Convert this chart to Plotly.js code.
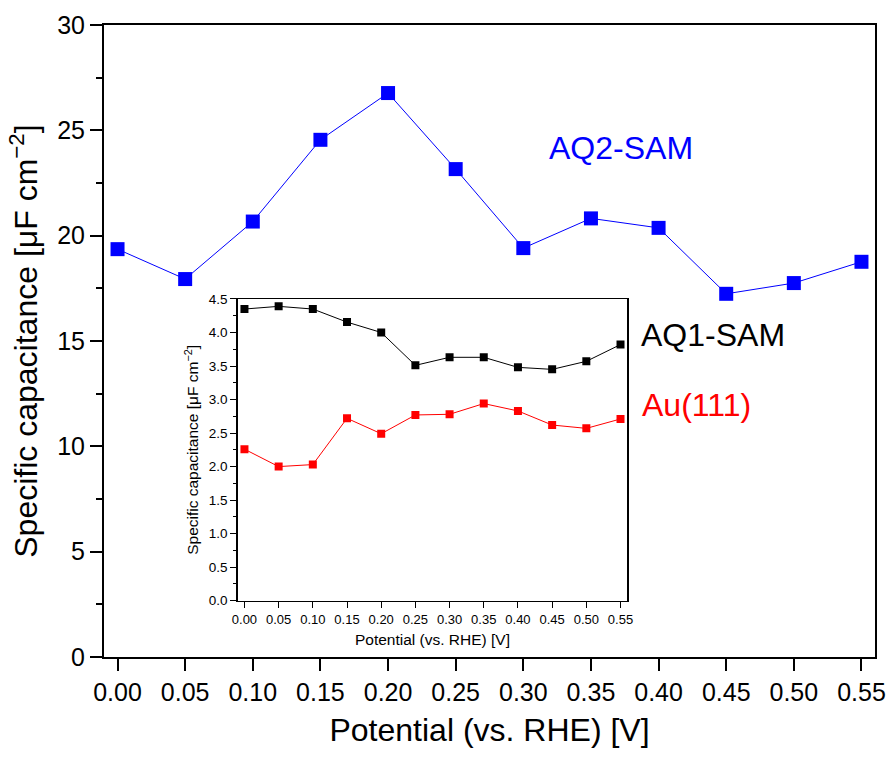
<!DOCTYPE html>
<html>
<head>
<meta charset="utf-8">
<script src="https://cdn.plot.ly/plotly-3.0.1.min.js"></script>
<style>html,body{margin:0;padding:0;background:#fff;}#chart{width:894px;height:759px;}</style>
</head>
<body>
<div id="chart"></div>
<script>
// Shared potentials (V vs. RHE)
const potential = [0.00, 0.05, 0.10, 0.15, 0.20, 0.25, 0.30, 0.35, 0.40, 0.45, 0.50, 0.55];
// Main plot: AQ2-SAM specific capacitance (µF cm^-2)
const aq2Sam = [19.36, 17.94, 20.67, 24.55, 26.77, 23.16, 19.41, 20.82, 20.37, 17.24, 17.75, 18.76];
// Inset: AQ1-SAM and Au(111)
const aq1Sam = [4.35, 4.39, 4.35, 4.155, 4.00, 3.51, 3.63, 3.63, 3.48, 3.45, 3.57, 3.82];
const au111  = [2.26, 2.00, 2.03, 2.72, 2.49, 2.77, 2.78, 2.94, 2.83, 2.62, 2.57, 2.71];
const xTicks = [0.00, 0.05, 0.10, 0.15, 0.20, 0.25, 0.30, 0.35, 0.40, 0.45, 0.50, 0.55];
const xTickText = ["0.00","0.05","0.10","0.15","0.20","0.25","0.30","0.35","0.40","0.45","0.50","0.55"];
const mainYTicks = [0, 5, 10, 15, 20, 25, 30];
const insetYTicks = [0.0, 0.5, 1.0, 1.5, 2.0, 2.5, 3.0, 3.5, 4.0, 4.5];
const insetYText = ["0.0","0.5","1.0","1.5","2.0","2.5","3.0","3.5","4.0","4.5"];
const labels = {aq2: "AQ2-SAM", aq1: "AQ1-SAM", au: "Au(111)"};

const FONT = "Liberation Sans, Arial, Helvetica, sans-serif";
const yTitle = "Specific capacitance [μF cm<sup>−2</sup>]";
const xTitle = "Potential (vs. RHE) [V]";

const traces = [
  {x: potential, y: aq2Sam, xaxis: 'x', yaxis: 'y', mode: 'lines+markers',
   line: {color: '#0000FF', width: 1}, marker: {symbol: 'square', size: 14, color: '#0000FF'}, name: labels.aq2},
  {x: potential, y: aq1Sam, xaxis: 'x2', yaxis: 'y2', mode: 'lines+markers',
   line: {color: '#000000', width: 1}, marker: {symbol: 'square', size: 8, color: '#000000'}, name: labels.aq1},
  {x: potential, y: au111, xaxis: 'x2', yaxis: 'y2', mode: 'lines+markers',
   line: {color: '#FF0000', width: 1}, marker: {symbol: 'square', size: 8, color: '#FF0000'}, name: labels.au}
];

const layout = {
  width: 894, height: 759,
  margin: {l: 104, r: 18.5, t: 25.3, b: 101.7},
  paper_bgcolor: '#fff', plot_bgcolor: '#fff',
  showlegend: false,
  font: {family: FONT, color: '#000'},
  xaxis: {
    domain: [0, 1], range: [-0.01, 0.56], anchor: 'y',
    tickmode: 'array', tickvals: xTicks, ticktext: xTickText,
    ticks: 'outside', ticklen: 12, tickwidth: 2, tickcolor: '#000',
    showline: true, linewidth: 2, linecolor: '#000', mirror: true,
    showgrid: false, zeroline: false,
    tickfont: {family: FONT, size: 25, color: '#000'},
    title: {text: xTitle, font: {family: FONT, size: 32, color: '#000'}, standoff: 14}
  },
  yaxis: {
    domain: [0, 1], range: [0, 30], anchor: 'x',
    tickmode: 'array', tickvals: mainYTicks,
    ticks: 'outside', ticklen: 12, tickwidth: 2, tickcolor: '#000',
    minor: {dtick: 2.5, ticks: 'outside', ticklen: 6, tickwidth: 2, tickcolor: '#000', showgrid: false},
    showline: true, linewidth: 2, linecolor: '#000', mirror: true,
    showgrid: false, zeroline: false,
    tickfont: {family: FONT, size: 25, color: '#000'},
    title: {text: yTitle, font: {family: FONT, size: 32, color: '#000'}, standoff: 10}
  },
  xaxis2: {
    domain: [0.1733, 0.6788], range: [-0.01, 0.56], anchor: 'y2',
    tickmode: 'array', tickvals: xTicks, ticktext: xTickText,
    ticks: 'outside', ticklen: 6, tickwidth: 1, tickcolor: '#000',
    showline: true, linewidth: 1.3, linecolor: '#000', mirror: true,
    showgrid: false, zeroline: false,
    tickfont: {family: FONT, size: 13, color: '#000'},
    title: {text: xTitle, font: {family: FONT, size: 15.5, color: '#000'}, standoff: 8}
  },
  yaxis2: {
    domain: [0.0891, 0.5665], range: [0, 4.5], anchor: 'x2',
    tickmode: 'array', tickvals: insetYTicks, ticktext: insetYText,
    ticks: 'outside', ticklen: 6, tickwidth: 1, tickcolor: '#000',
    minor: {dtick: 0.25, ticks: 'outside', ticklen: 3, tickwidth: 1, tickcolor: '#000', showgrid: false},
    showline: true, linewidth: 1.3, linecolor: '#000', mirror: true,
    showgrid: false, zeroline: false,
    tickfont: {family: FONT, size: 13.5, color: '#000'},
    title: {text: yTitle, font: {family: FONT, size: 15.5, color: '#000'}, standoff: 6}
  },
  annotations: [
    {text: labels.aq2, xref: 'x', yref: 'y', x: 0.372, y: 24.17, showarrow: false,
     xanchor: 'center', yanchor: 'middle', font: {family: FONT, size: 32, color: '#0000FF'}},
    {text: labels.aq1, xref: 'x', yref: 'y', x: 0.4405, y: 15.30, showarrow: false,
     xanchor: 'center', yanchor: 'middle', font: {family: FONT, size: 32, color: '#000000'}},
    {text: labels.au, xref: 'x', yref: 'y', x: 0.4278, y: 11.97, showarrow: false,
     xanchor: 'center', yanchor: 'middle', font: {family: FONT, size: 32, color: '#FF0000'}}
  ]
};

Plotly.newPlot('chart', traces, layout, {displayModeBar: false, staticPlot: true});
</script>
</body>
</html>
